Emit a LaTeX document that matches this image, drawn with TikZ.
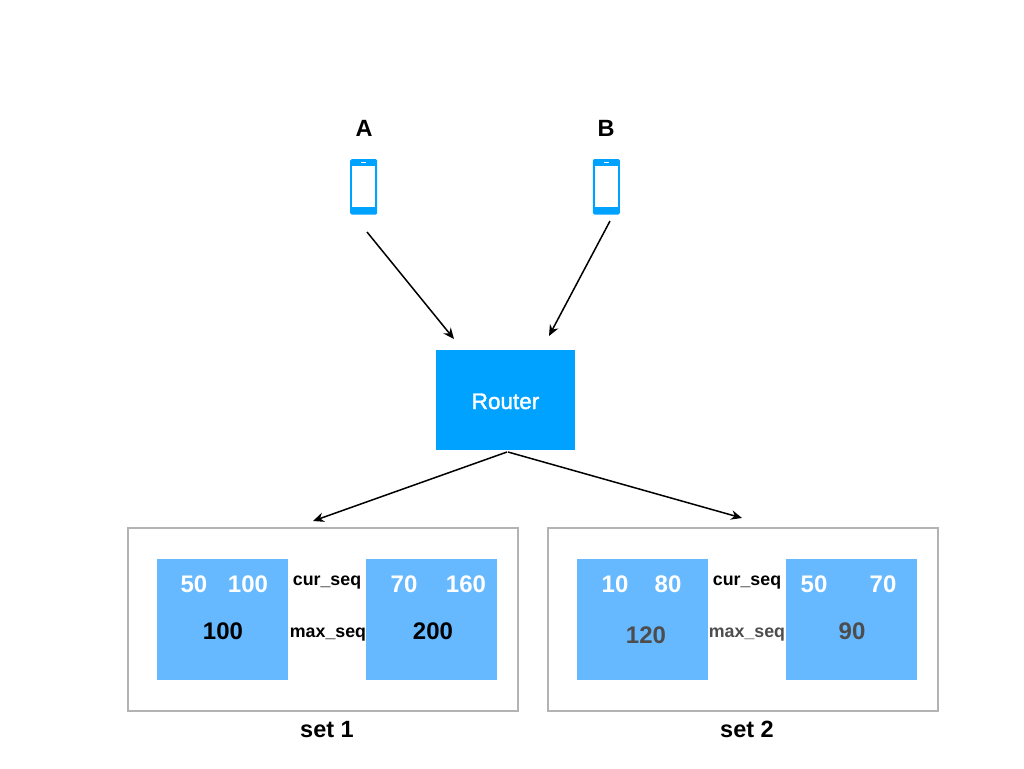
\documentclass[tikz,border=0pt]{standalone}
\usepackage{fontspec}
\setmainfont{Liberation Sans}
\newfontfamily\medfont[FakeBold=1.6]{Liberation Sans}
\usetikzlibrary{arrows.meta}
\definecolor{routerblue}{HTML}{00A2FF}
\definecolor{shardblue}{HTML}{66B8FF}
\definecolor{setgray}{HTML}{B3B3B3}
\definecolor{dimtext}{HTML}{4D4D4D}
\begin{document}
\begin{tikzpicture}[x=1pt,y=-1pt]
		\tikzstyle{phone}=[fill=routerblue,rounded corners=1.5pt,minimum width=27pt,minimum height=55.5pt,inner sep=0pt];
		\tikzstyle{screen}=[fill=white,minimum width=23pt,minimum height=41.5pt,inner sep=0pt];
		\tikzstyle{speaker}=[fill=white,minimum width=5.5pt,minimum height=1.5pt,inner sep=0pt];
		\tikzstyle{shard}=[fill=shardblue,minimum width=131pt,minimum height=121pt,inner sep=0pt];
		\tikzstyle{setbox}=[draw=setgray,line width=2pt,minimum width=390pt,minimum height=183pt,inner sep=0pt];
		\tikzstyle{num}=[anchor=base,inner sep=0pt,white,font=\fontsize{24}{24}\selectfont\bfseries];
		\tikzstyle{seq}=[anchor=base,inner sep=0pt,font=\fontsize{24}{24}\selectfont\bfseries];
		\tikzstyle{tag}=[anchor=base,inner sep=0pt,font=\fontsize{17.8}{17.8}\selectfont\bfseries];
		\tikzstyle{title}=[anchor=base,inner sep=0pt,font=\fontsize{23.5}{23.5}\selectfont\bfseries];
		\tikzstyle{link}=[-{Stealth[length=11pt,width=9.5pt]},line width=1.5pt];
		\useasboundingbox (0,0) rectangle (1024,768);
		% clients
		\path (363.7,186.8) node[phone] (phoneA) {};
		\path (363.7,186.5) node[screen] (screenA) {};
		\path (363.7,162.5) node[speaker] (speakerA) {};
		\path (606.3,186.8) node[phone] (phoneB) {};
		\path (606.3,186.5) node[screen] (screenB) {};
		\path (606.3,162.5) node[speaker] (speakerB) {};
		\path (364,136) node[title] (labelA) {A};
		\path (606,136) node[title] (labelB) {B};
		% router
		\path (505.5,400) node[fill=routerblue,minimum width=139pt,minimum height=100pt,inner sep=0pt] (router) {};
		\path (505.5,409) node[anchor=base,inner sep=0pt,white,font=\fontsize{22.5}{22.5}\medfont] (routerlabel) {Router};
		% set 1
		\path (322.5,619.5) node[setbox] (set1) {};
		\path (222.5,619.5) node[shard] (shard11) {};
		\path (431.5,619.5) node[shard] (shard12) {};
		\path (194,592) node[num] (cur11) {50};
		\path (248,592) node[num] (max11) {100};
		\path (404,592) node[num] (cur12) {70};
		\path (466,592) node[num] (max12) {160};
		\path (223,639) node[seq] (val11) {100};
		\path (433,639) node[seq] (val12) {200};
		\path (327,585) node[tag] (curtag1) {cur\_seq};
		\path (328,637) node[tag] (maxtag1) {max\_seq};
		\path (327,737) node[title] (title1) {set 1};
		% set 2
		\path (743,619.5) node[setbox] (set2) {};
		\path (642.5,619.5) node[shard] (shard21) {};
		\path (851.5,619.5) node[shard] (shard22) {};
		\path (615,592) node[num] (cur21) {10};
		\path (668,592) node[num] (max21) {80};
		\path (814,592) node[num] (cur22) {50};
		\path (883,592) node[num] (max22) {70};
		\path (646,643) node[seq,dimtext] (val21) {120};
		\path (852,639) node[seq,dimtext] (val22) {90};
		\path (747,585) node[tag] (curtag2) {cur\_seq};
		\path (747,637) node[tag,dimtext] (maxtag2) {max\_seq};
		\path (747,737) node[title] (title2) {set 2};
		% connector ends
		\coordinate (fromA) at (367,232);
		\coordinate (toA) at (454,339);
		\coordinate (fromB) at (610,221);
		\coordinate (toB) at (549,336);
		\coordinate (fromR1) at (507,452);
		\coordinate (toS1) at (313,521);
		\coordinate (fromR2) at (508,452);
		\coordinate (toS2) at (742,518);
		\draw[link] (fromA) -- (toA);
		\draw[link] (fromB) -- (toB);
		\draw[link] (fromR1) -- (toS1);
		\draw[link] (fromR2) -- (toS2);
\end{tikzpicture}
\end{document}
